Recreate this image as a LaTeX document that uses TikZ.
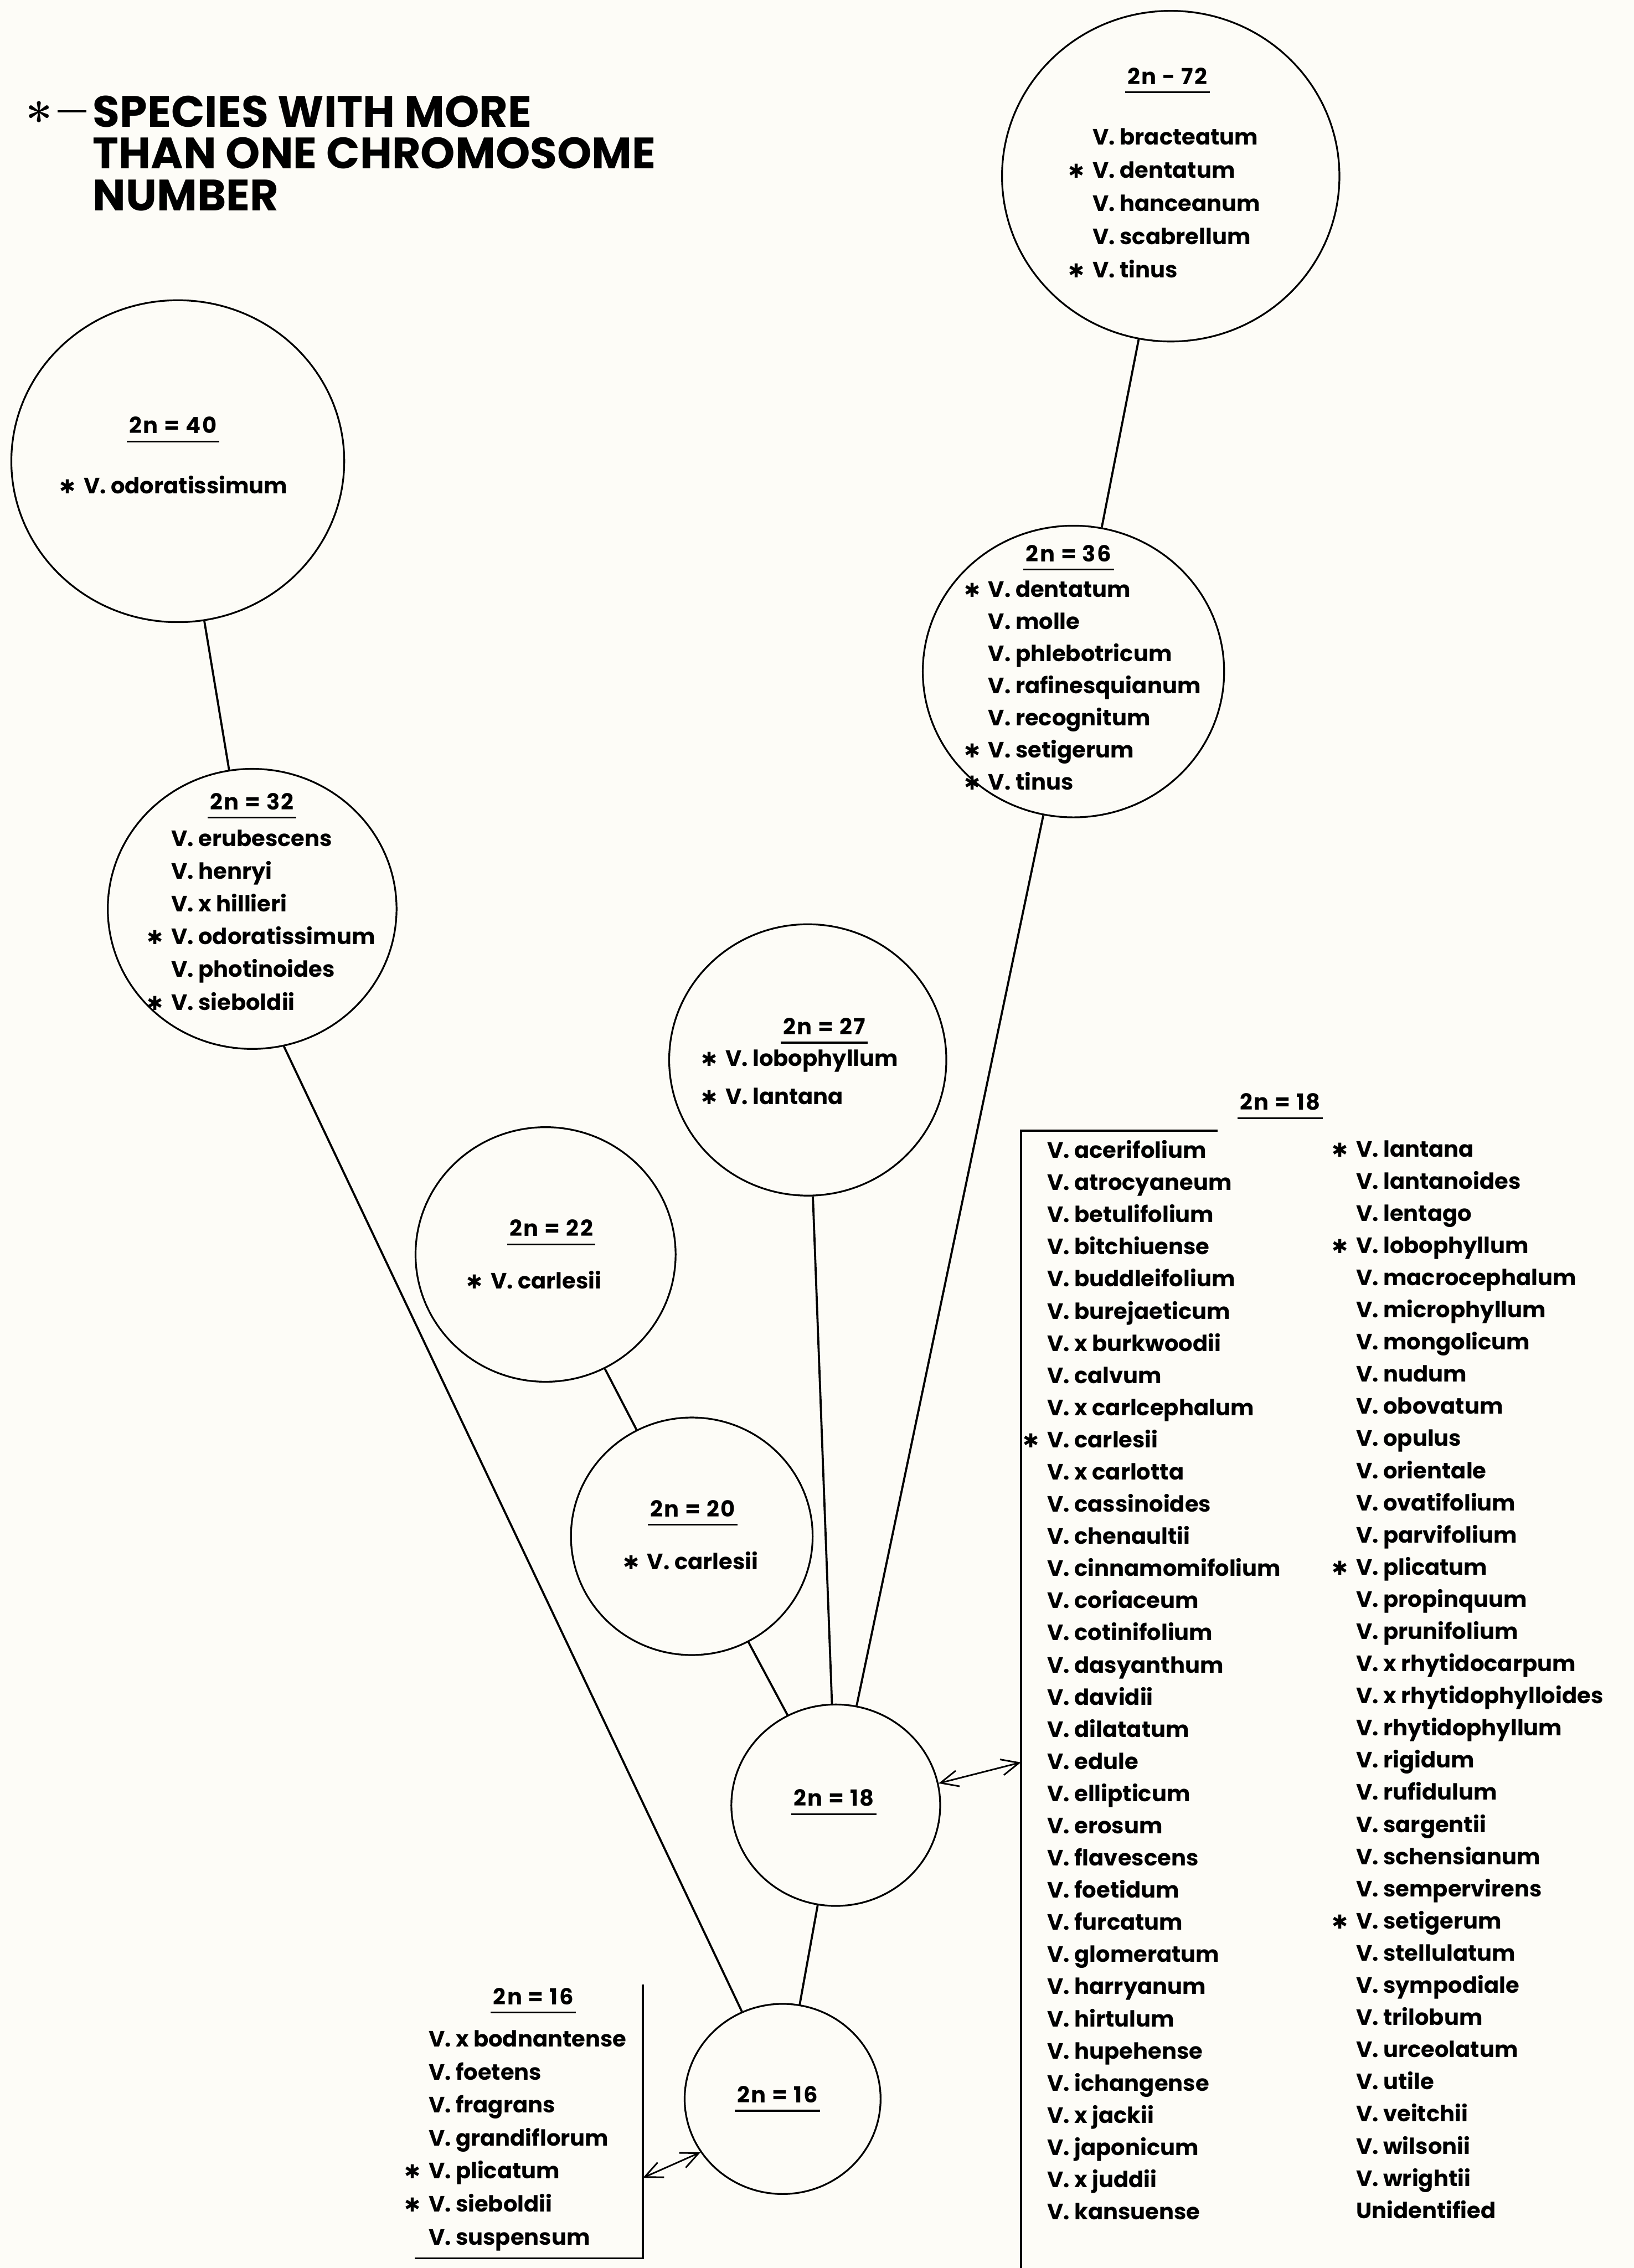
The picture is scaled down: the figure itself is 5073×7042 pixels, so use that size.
\documentclass[tikz,border=0pt]{standalone}
\usepackage{fontspec}
\setmainfont{Poppins}
\newfontfamily\symfont{DejaVu Sans}
\newfontfamily\lmfont{Latin Modern Roman}
\usetikzlibrary{shapes.geometric,arrows.meta}
\definecolor{paper}{RGB}{253,252,247}
\newcommand\namefont{\bfseries\fontsize{19.6pt}{28.5pt}\selectfont}
\newcommand\spmark{\llap{{\symfont\fontsize{17pt}{17pt}\selectfont ✱}\hspace{0.25cm}}}
\tikzset{
  chrom/.style={draw, ellipse, line width=0.055cm, inner sep=0pt},
  link/.style={line width=0.065cm},
  head/.style={font={\namefont\addfontfeature{LetterSpace=6}}, inner xsep=2pt, inner ysep=0.24cm},
  uline/.style={line width=0.055cm},
  names/.style={font={\bfseries\fontsize{19.6pt}{#1}\selectfont}, align=left, anchor=north west, inner sep=0pt},
  names/.default=28.5pt,
  bracket/.style={line width=0.065cm},
  twoway/.style={{Straight Barb[length=0.55cm,width=0.5cm]}-{Straight Barb[length=0.55cm,width=0.5cm]}, line width=0.05cm},
}
\begin{document}
\begin{tikzpicture}[x=0.01cm,y=-0.01cm]
      \useasboundingbox (0,0) rectangle (5073,7042);
      \fill[paper] (0,0) rectangle (5073,7042);
      % legend
      \node[font={\bfseries\fontsize{38.8pt}{37pt}\selectfont}, align=left, anchor=north west, inner sep=0pt] (legend) at (288,296)
        {\llap{\smash{\lmfont\fontsize{42pt}{42pt}\selectfont\raisebox{-0.22em}{*}}\hspace{0.16cm}\rule[0.44cm]{0.89cm}{0.07cm}\hspace{0.21cm}}SPECIES WITH MORE\\THAN ONE CHROMOSOME\\NUMBER};
      % chromosome number circles
      \node[chrom, minimum width=10.47cm, minimum height=10.26cm] (c72) at (3635,547) {};
      \node[chrom, minimum width=10.33cm, minimum height=9.99cm] (c40) at (552,1432) {};
      \node[chrom, minimum width=9.35cm, minimum height=9.05cm] (c36) at (3333,2085) {};
      \node[chrom, minimum width=8.96cm, minimum height=8.69cm] (c32) at (783,2822) {};
      \node[chrom, minimum width=8.60cm, minimum height=8.42cm] (c27) at (2508,3291) {};
      \node[chrom, minimum width=8.07cm, minimum height=7.90cm] (c22) at (1694,3895) {};
      \node[chrom, minimum width=7.50cm, minimum height=7.37cm] (c20) at (2148,4770) {};
      \node[chrom, minimum width=6.48cm, minimum height=6.25cm] (c18) at (2595,5605) {};
      \node[chrom, minimum width=6.08cm, minimum height=5.90cm] (c16) at (2430,6517) {};
      % headings
      \node[head] (h72) at (3625,236) {2n - 72};
      \node[head] (h40) at (537,1320) {2n = 40};
      \node[head] (h36) at (3318,1718) {2n = 36};
      \node[head] (h32) at (782,2488) {2n = 32};
      \node[head] (h27) at (2559,3187) {2n = 27};
      \node[head] (h22) at (1712,3813) {2n = 22};
      \node[head] (h20) at (2151,4684) {2n = 20};
      \node[head] (h18) at (2589,5582) {2n = 18};
      \node[head] (h16) at (2414,6503) {2n = 16};
      \node[head] (h16list) at (1656,6198) {2n = 16};
      \node[head] (h18list) at (3975,3421) {2n = 18};
      \draw[uline] (h72.south west) -- (h72.south east);
      \draw[uline] (h40.south west) -- (h40.south east);
      \draw[uline] (h36.south west) -- (h36.south east);
      \draw[uline] (h32.south west) -- (h32.south east);
      \draw[uline] (h27.south west) -- (h27.south east);
      \draw[uline] (h22.south west) -- (h22.south east);
      \draw[uline] (h20.south west) -- (h20.south east);
      \draw[uline] (h18.south west) -- (h18.south east);
      \draw[uline] (h16.south west) -- (h16.south east);
      \draw[uline] (h16list.south west) -- (h16list.south east);
      \draw[uline] (h18list.south west) -- (h18list.south east);
      % species in the circles
      \node[names=29.3pt] (n72) at (3392,398) {V. bracteatum\\\spmark V. dentatum\\V. hanceanum\\V. scabrellum\\\spmark V. tinus};
      \node[names] (n40) at (259,1476) {\spmark V. odoratissimum};
      \node[names=28.4pt] (n36) at (3068,1802) {\spmark V. dentatum\\V. molle\\V. phlebotricum\\V. rafinesquianum\\V. recognitum\\\spmark V. setigerum\\\spmark V. tinus};
      \node[names=28.9pt] (n32) at (531,2576) {V. erubescens\\V. henryi\\V. x hillieri\\\spmark V. odoratissimum\\V. photinoides\\\spmark V. sieboldii};
      \node[names=33.6pt] (n27) at (2252,3259) {\spmark V. lobophyllum\\\spmark V. lantana};
      \node[names] (n22) at (1523,3946) {\spmark V. carlesii};
      \node[names] (n20) at (2009,4817) {\spmark V. carlesii};
      % lists
      \node[names=29.1pt] (list16) at (1330,6304) {V. x bodnantense\\V. foetens\\V. fragrans\\V. grandiflorum\\\spmark V. plicatum\\\spmark V. sieboldii\\V. suspensum};
      \node[names=28.4pt] (list18a) at (3251,3540) {V. acerifolium\\V. atrocyaneum\\V. betulifolium\\V. bitchiuense\\V. buddleifolium\\V. burejaeticum\\V. x burkwoodii\\V. calvum\\V. x carlcephalum\\\spmark V. carlesii\\V. x carlotta\\V. cassinoides\\V. chenaultii\\V. cinnamomifolium\\V. coriaceum\\V. cotinifolium\\V. dasyanthum\\V. davidii\\V. dilatatum\\V. edule\\V. ellipticum\\V. erosum\\V. flavescens\\V. foetidum\\V. furcatum\\V. glomeratum\\V. harryanum\\V. hirtulum\\V. hupehense\\V. ichangense\\V. x jackii\\V. japonicum\\V. x juddii\\V. kansuense};
      \node[names=28.4pt] (list18b) at (4210,3540) {\spmark V. lantana\\V. lantanoides\\V. lentago\\\spmark V. lobophyllum\\V. macrocephalum\\V. microphyllum\\V. mongolicum\\V. nudum\\V. obovatum\\V. opulus\\V. orientale\\V. ovatifolium\\V. parvifolium\\\spmark V. plicatum\\V. propinquum\\V. prunifolium\\V. x rhytidocarpum\\V. x rhytidophylloides\\V. rhytidophyllum\\V. rigidum\\V. rufidulum\\V. sargentii\\V. schensianum\\V. sempervirens\\\spmark V. setigerum\\V. stellulatum\\V. sympodiale\\V. trilobum\\V. urceolatum\\V. utile\\V. veitchii\\V. wilsonii\\V. wrightii\\Unidentified};
      \draw[bracket] (3780,3510) -- (3170,3510) -- (3170,7042);
      \draw[bracket] (1996,6161) -- (1996,7012) -- (1288,7012);
      % links between numbers
      \draw[link] (c72) -- (c36);
      \draw[link] (c40) -- (c32);
      \draw[link] (c32.-77) -- (c16.115);
      \draw[link] (c22) -- (c20);
      \draw[link] (c20) -- (c18);
      \draw[link] (c27) -- (c18);
      \draw[link] (c36) -- (c18);
      \draw[link] (c18) -- (c16);
      \coordinate (in18) at (3170,5472);
      \coordinate (in16) at (1996,6762);
      \draw[twoway] (c18.12) -- (in18);
      \draw[twoway] (c16.213) -- (in16);
\end{tikzpicture}
\end{document}
